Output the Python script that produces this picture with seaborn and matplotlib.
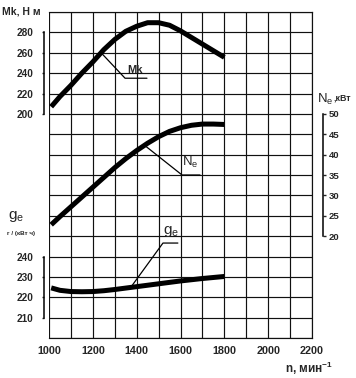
import pandas as pd
import seaborn as sns
from matplotlib import pyplot as plt
from matplotlib.ticker import FixedLocator, MultipleLocator

# engine speed, min^-1
rpm = [1010, 1050, 1100, 1150, 1200, 1250, 1300, 1350, 1400,
       1450, 1500, 1550, 1600, 1650, 1700, 1750, 1800]
# torque Mk, N*m
torque = [207, 217, 228, 240, 251, 263, 273, 281, 286,
          289.5, 289.5, 287, 281.5, 275, 268.5, 262, 255.5]
# power Ne, kW
power = [22.8, 24.8, 27.2, 29.6, 32.0, 34.4, 36.8, 39.0, 41.0,
         42.8, 44.4, 45.7, 46.6, 47.2, 47.5, 47.5, 47.4]
# specific fuel consumption ge, g/(kW h)
fuel = [224.6, 223.4, 222.8, 222.7, 222.8, 223.2, 223.8, 224.5, 225.2,
        225.9, 226.6, 227.3, 228.0, 228.6, 229.2, 229.7, 230.2]

x_ticks = [1000, 1200, 1400, 1600, 1800, 2000, 2200]
torque_ticks = [200, 220, 240, 260, 280]
power_ticks = [20, 25, 30, 35, 40, 45, 50]
fuel_ticks = [210, 220, 230, 240]

df = pd.DataFrame({'n': rpm, 'Mk': torque, 'Ne': power, 'ge': fuel})

sns.set_style('white')
plt.rcParams['font.family'] = ['Liberation Sans', 'DejaVu Sans']
plt.rcParams['font.weight'] = 'bold'

fig = plt.figure(figsize=(3.56, 3.78), dpi=100)
ax = fig.add_axes([49 / 356, 40 / 378, 263 / 356, 326 / 378])
ax_ne = ax.twinx()
ax_ge = ax.twinx()

curve = dict(color='black', linewidth=3.6, solid_capstyle='butt')
sns.lineplot(data=df, x='n', y='Mk', ax=ax, **curve)
sns.lineplot(data=df, x='n', y='Ne', ax=ax_ne, **curve)
sns.lineplot(data=df, x='n', y='ge', ax=ax_ge, **curve)

# scales: 16 grid rows shared by the three y axes
ax.set_xlim(1000, 2200)
ax.set_ylim(-20, 300)
ax_ne.set_ylim(-5, 75)
ax_ge.set_ylim(200, 360)
for a in (ax, ax_ne, ax_ge):
	a.set_xlabel('')
	a.set_ylabel('')

# grid ---------------------------------------------------------------
ax.xaxis.set_major_locator(FixedLocator(x_ticks))
ax.xaxis.set_minor_locator(MultipleLocator(100))
ax.yaxis.set_major_locator(FixedLocator(torque_ticks))
ax.yaxis.set_minor_locator(MultipleLocator(20))
ax.grid(True, which='both', color='#111111', linewidth=0.85)
ax.tick_params(which='minor', length=0)
ax.tick_params(axis='x', length=0, pad=5.5, labelsize=7.8)
ax.tick_params(axis='y', which='major', direction='out', length=1.8, width=1,
               pad=6, labelsize=7.2)
for side in ('top', 'bottom', 'right'):
	ax.spines[side].set_color('#111111')
	ax.spines[side].set_linewidth(0.85)
ax.spines['left'].set_position(('outward', 3.5))
ax.spines['left'].set_bounds(200, 280)
ax.spines['left'].set_linewidth(1.1)
ax.spines['left'].set_color('black')

# Ne axis on the right
ax_ne.set_yticks(power_ticks)
for side in ('left', 'top', 'bottom'):
	ax_ne.spines[side].set_visible(False)
ax_ne.spines['right'].set_position(('outward', 8))
ax_ne.spines['right'].set_bounds(20, 50)
ax_ne.spines['right'].set_linewidth(1.1)
ax_ne.spines['right'].set_color('black')
ax_ne.tick_params(axis='y', direction='out', length=1.8, width=1, pad=2,
                  labelsize=6.8)

# ge axis on the left, lower part
ax_ge.yaxis.set_ticks_position('left')
ax_ge.set_yticks(fuel_ticks)
for side in ('right', 'top', 'bottom'):
	ax_ge.spines[side].set_visible(False)
ax_ge.spines['left'].set_visible(True)
ax_ge.spines['left'].set_position(('outward', 3.5))
ax_ge.spines['left'].set_bounds(210, 240)
ax_ge.spines['left'].set_linewidth(1.1)
ax_ge.spines['left'].set_color('black')
ax_ge.tick_params(axis='y', direction='out', length=1.8, width=1, pad=6,
                  labelsize=7.2, labelleft=True, labelright=False)

# curve labels with leader lines
leader = dict(color='black', linewidth=0.9)
ax.plot([1242, 1347, 1447], [259, 235, 235], **leader)
ax.text(1392, 243, 'Mk', fontsize=8, ha='center', va='center')
ax_ne.plot([1438, 1607, 1689], [42.2, 35.0, 35.0], **leader)
ax_ne.text(1645, 38.0, r'N$_\mathregular{e}$', fontsize=9.5,
           fontweight='normal', ha='center', va='center')
ax_ge.plot([1374, 1520, 1588], [225, 246.6, 246.6], **leader)
ax_ge.text(1555, 252.5, r'g$_\mathregular{e}$', fontsize=11,
           fontweight='normal', ha='center', va='center')

# axis titles
fig.text(2 / 356, 1 - 12 / 378, 'Mk, Н м', fontsize=7.5, va='center')
fig.text(317 / 356, 1 - 99 / 378, r'N$_\mathregular{e}$', fontsize=9.5,
         fontweight='normal', va='center')
fig.text(333 / 356, 1 - 98 / 378, ',кВт', fontsize=6.3, va='center')
fig.text(8 / 356, 1 - 217 / 378, r'g$_\mathregular{e}$', fontsize=11,
         fontweight='normal', va='center')
fig.text(7 / 356, 1 - 234 / 378, 'г / (кВт ч)', fontsize=4.5, va='center')
fig.text(285 / 356, 1 - 368 / 378, r'n, мин$^\mathregular{-1}$', fontsize=8.5,
         va='center')

fig.savefig('out.png', dpi=100)
